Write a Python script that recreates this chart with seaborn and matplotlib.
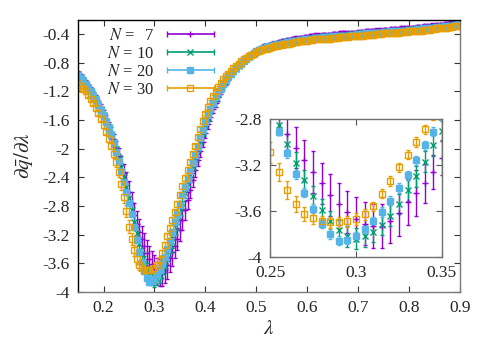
import numpy as np
import matplotlib
matplotlib.use('Agg')
import matplotlib.pyplot as plt
import matplotlib.ticker as mticker
import seaborn as sns
from matplotlib.container import ErrorbarContainer
from matplotlib.legend_handler import HandlerErrorbar

# lambda grid: one point every 0.005 from 0.15 to 0.90
lam = np.round(np.arange(0.15, 0.9001, 0.005), 3)

# d q_bar / d lambda for each N
q_n7 = [-0.95, -0.99, -1.03, -1.08, -1.13, -1.18, -1.24, -1.30, -1.37, -1.44,
        -1.52, -1.60, -1.69, -1.78, -1.88, -1.99, -2.10, -2.22, -2.34, -2.46,
        -2.60, -2.76, -2.93, -3.05, -3.16, -3.26, -3.36, -3.46, -3.54, -3.61,
        -3.67, -3.71, -3.73, -3.73, -3.69, -3.62, -3.52, -3.44, -3.36, -3.26,
        -3.14, -3.00, -2.86, -2.72, -2.58, -2.44, -2.30, -2.16, -2.03, -1.90,
        -1.78, -1.66, -1.55, -1.45, -1.36, -1.28, -1.20, -1.13, -1.07, -1.01,
        -0.96, -0.91, -0.87, -0.83, -0.79, -0.76, -0.73, -0.70, -0.68, -0.65,
        -0.63, -0.61, -0.59, -0.57, -0.56, -0.55, -0.54, -0.53, -0.52, -0.51,
        -0.50, -0.49, -0.48, -0.48, -0.47, -0.46, -0.46, -0.45, -0.45, -0.44,
        -0.44, -0.43, -0.43, -0.42, -0.42, -0.42, -0.41, -0.41, -0.41, -0.41,
        -0.40, -0.40, -0.40, -0.39, -0.39, -0.39, -0.39, -0.38, -0.38, -0.38,
        -0.37, -0.37, -0.37, -0.36, -0.36, -0.36, -0.36, -0.35, -0.35, -0.35,
        -0.34, -0.34, -0.34, -0.33, -0.33, -0.33, -0.33, -0.32, -0.32, -0.32,
        -0.31, -0.31, -0.31, -0.30, -0.30, -0.30, -0.29, -0.29, -0.29, -0.28,
        -0.28, -0.27, -0.27, -0.27, -0.26, -0.26, -0.25, -0.25, -0.24, -0.23,
        -0.22]

q_n10 = [-0.96, -1.00, -1.04, -1.09, -1.14, -1.19, -1.25, -1.31, -1.38, -1.45,
         -1.53, -1.61, -1.70, -1.80, -1.90, -2.01, -2.13, -2.26, -2.40, -2.54,
         -2.69, -2.85, -3.02, -3.18, -3.33, -3.47, -3.59, -3.69, -3.77, -3.82,
         -3.84, -3.82, -3.78, -3.72, -3.64, -3.54, -3.42, -3.30, -3.17, -3.03,
         -2.90, -2.76, -2.62, -2.49, -2.37, -2.25, -2.13, -2.01, -1.89, -1.78,
         -1.67, -1.57, -1.47, -1.38, -1.30, -1.23, -1.16, -1.10, -1.05, -1.00,
         -0.96, -0.92, -0.88, -0.84, -0.81, -0.78, -0.75, -0.72, -0.69, -0.66,
         -0.64, -0.62, -0.60, -0.58, -0.57, -0.56, -0.55, -0.54, -0.53, -0.52,
         -0.52, -0.51, -0.50, -0.50, -0.49, -0.48, -0.48, -0.47, -0.47, -0.46,
         -0.46, -0.45, -0.45, -0.44, -0.44, -0.44, -0.43, -0.43, -0.43, -0.43,
         -0.42, -0.42, -0.42, -0.41, -0.41, -0.41, -0.41, -0.40, -0.40, -0.40,
         -0.39, -0.39, -0.39, -0.38, -0.38, -0.38, -0.38, -0.37, -0.37, -0.37,
         -0.36, -0.36, -0.36, -0.35, -0.35, -0.35, -0.35, -0.34, -0.34, -0.34,
         -0.33, -0.33, -0.33, -0.32, -0.32, -0.32, -0.31, -0.31, -0.31, -0.30,
         -0.30, -0.29, -0.29, -0.29, -0.28, -0.28, -0.27, -0.27, -0.26, -0.25,
         -0.25]

q_n20 = [-0.97, -1.01, -1.05, -1.10, -1.15, -1.20, -1.26, -1.32, -1.39, -1.46,
         -1.54, -1.62, -1.71, -1.81, -1.92, -2.04, -2.17, -2.31, -2.46, -2.61,
         -2.76, -2.91, -3.10, -3.28, -3.44, -3.58, -3.71, -3.80, -3.86, -3.85,
         -3.82, -3.76, -3.69, -3.61, -3.51, -3.40, -3.29, -3.16, -3.03, -2.91,
         -2.78, -2.65, -2.53, -2.42, -2.31, -2.20, -2.09, -1.97, -1.85, -1.74,
         -1.63, -1.53, -1.44, -1.36, -1.28, -1.21, -1.15, -1.09, -1.04, -0.99,
         -0.95, -0.91, -0.87, -0.83, -0.80, -0.77, -0.74, -0.71, -0.69, -0.66,
         -0.64, -0.62, -0.61, -0.59, -0.58, -0.57, -0.56, -0.55, -0.54, -0.53,
         -0.53, -0.52, -0.51, -0.51, -0.50, -0.49, -0.49, -0.48, -0.48, -0.47,
         -0.47, -0.46, -0.46, -0.45, -0.45, -0.45, -0.44, -0.44, -0.44, -0.44,
         -0.43, -0.43, -0.43, -0.42, -0.42, -0.42, -0.42, -0.41, -0.41, -0.41,
         -0.40, -0.40, -0.40, -0.39, -0.39, -0.39, -0.39, -0.38, -0.38, -0.38,
         -0.37, -0.37, -0.37, -0.36, -0.36, -0.36, -0.36, -0.35, -0.35, -0.35,
         -0.34, -0.34, -0.34, -0.33, -0.33, -0.33, -0.32, -0.32, -0.32, -0.31,
         -0.31, -0.30, -0.30, -0.30, -0.29, -0.29, -0.28, -0.28, -0.27, -0.26,
         -0.26]

q_n30 = [-1.08, -1.12, -1.16, -1.20, -1.25, -1.30, -1.36, -1.43, -1.50, -1.58,
         -1.67, -1.76, -1.86, -1.96, -2.07, -2.19, -2.33, -2.49, -2.67, -2.87,
         -3.09, -3.26, -3.42, -3.54, -3.63, -3.66, -3.69, -3.70, -3.70, -3.69,
         -3.67, -3.63, -3.56, -3.45, -3.34, -3.22, -3.11, -3.00, -2.89, -2.77,
         -2.64, -2.52, -2.41, -2.30, -2.19, -2.08, -1.96, -1.84, -1.72, -1.61,
         -1.51, -1.42, -1.34, -1.27, -1.20, -1.14, -1.08, -1.03, -0.99, -0.95,
         -0.91, -0.87, -0.84, -0.81, -0.78, -0.75, -0.73, -0.71, -0.69, -0.67,
         -0.65, -0.64, -0.62, -0.61, -0.60, -0.59, -0.58, -0.57, -0.56, -0.55,
         -0.55, -0.54, -0.53, -0.53, -0.52, -0.51, -0.51, -0.50, -0.50, -0.49,
         -0.49, -0.48, -0.48, -0.47, -0.47, -0.47, -0.46, -0.46, -0.46, -0.46,
         -0.45, -0.45, -0.45, -0.44, -0.44, -0.44, -0.44, -0.43, -0.43, -0.43,
         -0.42, -0.42, -0.42, -0.41, -0.41, -0.41, -0.41, -0.40, -0.40, -0.40,
         -0.39, -0.39, -0.39, -0.38, -0.38, -0.38, -0.38, -0.37, -0.37, -0.37,
         -0.36, -0.36, -0.36, -0.35, -0.35, -0.35, -0.34, -0.34, -0.34, -0.33,
         -0.33, -0.32, -0.32, -0.32, -0.31, -0.31, -0.30, -0.30, -0.29, -0.28,
         -0.28]

# error bars (half widths)
e_n7 = ([0.03, 0.03, 0.03, 0.04, 0.04, 0.04, 0.05, 0.05, 0.05, 0.06,
         0.06, 0.07, 0.07, 0.08, 0.09, 0.10, 0.11, 0.12, 0.13, 0.14,
         0.15, 0.16, 0.17, 0.18, 0.18, 0.18, 0.18, 0.18, 0.18, 0.18,
         0.19, 0.19, 0.19, 0.19, 0.19, 0.20, 0.20, 0.20, 0.17, 0.15,
         0.15, 0.14, 0.13, 0.12, 0.11, 0.10, 0.09, 0.08, 0.08, 0.07,
         0.07, 0.06, 0.06, 0.05, 0.05, 0.05, 0.04, 0.04, 0.04, 0.04]
        + [0.03] * 91)
e_n10 = ([0.02, 0.02, 0.02, 0.02, 0.02, 0.03, 0.03, 0.03, 0.03, 0.03,
          0.03, 0.03, 0.04, 0.04, 0.04, 0.05, 0.05, 0.06, 0.06, 0.07]
         + [0.09] * 20
         + [0.08, 0.08, 0.07, 0.07, 0.06, 0.06, 0.05, 0.05, 0.05, 0.04]
         + [0.04] * 10 + [0.02] * 91)
e_n20 = [0.02] * 20 + [0.03, 0.03] + [0.04] * 18 + [0.03] * 10 + [0.02] * 101
e_n30 = ([0.03] * 10
         + [0.04, 0.04, 0.05, 0.05, 0.06, 0.06, 0.07, 0.08, 0.09, 0.09,
            0.09, 0.08, 0.08, 0.07, 0.06, 0.05, 0.05, 0.05, 0.05, 0.05,
            0.05, 0.05, 0.04, 0.04, 0.04, 0.04, 0.04, 0.04, 0.04, 0.04,
            0.04, 0.04, 0.04, 0.04, 0.03, 0.03, 0.03, 0.03, 0.03, 0.03]
         + [0.02] * 101)

labels = [r'$N$ = $\enspace$7', r'$N$ = 10', r'$N$ = 20', r'$N$ = 30']
colors = ['#9400D3', '#009E73', '#56B4E9', '#E69F00']
markers = ['+', 'x', 's', 's']
msizes = [5, 4.5, 4, 5]
fills = [True, True, True, False]
values = [q_n7, q_n10, q_n20, q_n30]
errors = [e_n7, e_n10, e_n20, e_n30]

sns.set_theme(style='ticks')
plt.rcParams['font.family'] = ['Liberation Serif', 'DejaVu Serif']
plt.rcParams['mathtext.fontset'] = 'stix'
plt.rcParams['axes.unicode_minus'] = False

fig = plt.figure(figsize=(4.91, 3.43), dpi=100)
ax = fig.add_axes([0.159, 0.149, 0.778, 0.793])
axin = fig.add_axes([0.550, 0.251, 0.350, 0.402])


def draw_series(a):
    for q, e, c, m, ms, f in zip(values, errors, colors, markers, msizes, fills):
        a.errorbar(lam, q, yerr=e, fmt=m, color=c, ms=ms,
                   mfc=c if f else 'none', mec=c, mew=1.0,
                   elinewidth=1.0, capsize=1.5, capthick=1.0)


draw_series(ax)
draw_series(axin)

# main axes
ax.set_xlim(0.15, 0.9)
ax.set_ylim(-4, -0.2)
ax.set_xticks(np.arange(0.2, 0.91, 0.1))
ax.set_yticks(np.arange(-4, -0.39, 0.4))
ax.xaxis.set_major_formatter(mticker.FormatStrFormatter('%g'))
ax.yaxis.set_major_formatter(mticker.FormatStrFormatter('%g'))
ax.tick_params(direction='in', top=True, right=True, length=4, width=0.8,
               labelsize=12.5, color='#333333', pad=6)
ax.set_xlabel(r'$\lambda$', fontsize=15, labelpad=3)
ax.set_ylabel(r'$\partial\bar{q}/\partial\lambda$', fontsize=15, labelpad=5)
for side in ['left', 'top']:
    ax.spines[side].set_color('black')
for side in ['right', 'bottom']:
    ax.spines[side].set_color('#7a7a7a')
for s in ax.spines.values():
    s.set_linewidth(1.0)

# legend with horizontal error-bar samples, text on the left
handles = []
for lab, c, m, ms, f in zip(labels, colors, markers, msizes, fills):
    h = ax.errorbar([np.nan], [np.nan], xerr=[1.0], fmt=m, color=c, ms=ms,
                    mfc=c if f else 'none', mec=c, mew=1.0,
                    elinewidth=1.2, capsize=2.2, capthick=1.0, label=lab)
    handles.append(h)
ax.legend(handles=handles, loc='upper left', bbox_to_anchor=(0.075, 0.97),
          frameon=False, markerfirst=False, fontsize=12, handlelength=3.0,
          handletextpad=0.7, labelspacing=0.12, borderpad=0, borderaxespad=0,
          handler_map={ErrorbarContainer: HandlerErrorbar(xerr_size=1.4)})

# inset
axin.set_facecolor('white')
axin.set_xlim(0.25, 0.35)
axin.set_ylim(-4, -2.8)
axin.set_xticks([0.25, 0.3, 0.35])
axin.set_yticks([-4, -3.6, -3.2, -2.8])
axin.xaxis.set_major_formatter(mticker.FormatStrFormatter('%g'))
axin.yaxis.set_major_formatter(mticker.FormatStrFormatter('%g'))
axin.tick_params(direction='in', top=True, right=True, length=4, width=0.8,
                 labelsize=12.5, color='#555555', pad=6)
for s in axin.spines.values():
    s.set_color('#707070')
    s.set_linewidth(1.0)

fig.savefig('out.png', dpi=100)
